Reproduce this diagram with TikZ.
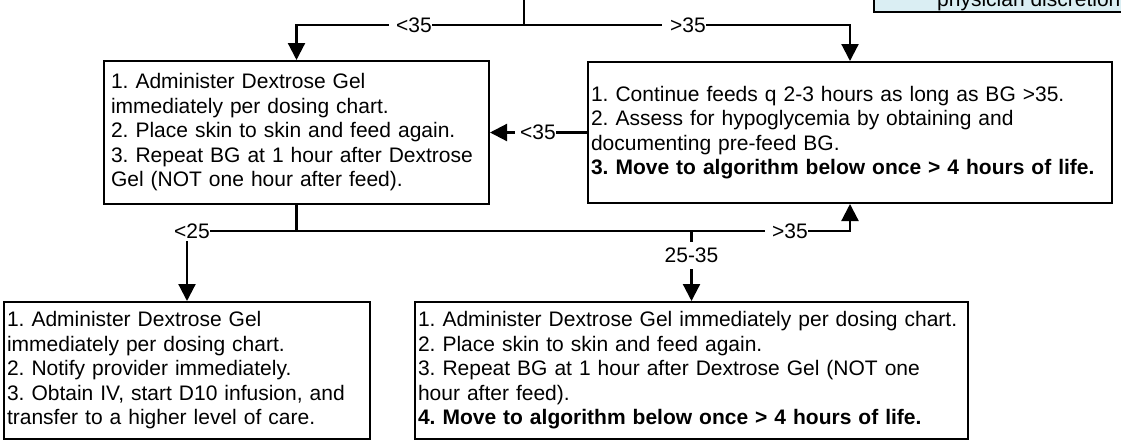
\documentclass[tikz,border=0pt]{standalone}
\usepackage{fontspec}
\setmainfont{Liberation Sans}
\usetikzlibrary{arrows.meta}
\definecolor{notefill}{RGB}{218,238,243}
\frenchspacing
\begin{document}
\begin{tikzpicture}[x=1pt,y=-1pt,
  every node/.style={font=\fontsize{21}{24.5}\selectfont},
  box/.style={draw=black, line width=2pt, align=left, anchor=center, inner ysep=2pt},
  conn/.style={line width=2.2pt},
  arr/.style={conn, -{Triangle[length=17pt,width=17pt]}},
  lbl/.style={fill=white, inner xsep=0pt, inner ysep=3pt},
]
\path[use as bounding box] (0,0) rectangle (1121,445);
\clip (0,0) rectangle (1121,445);

% note box (top right, partly outside)
\node[draw=black, line width=2pt, fill=notefill, anchor=south west,
      minimum width=300pt, minimum height=80pt, inner sep=0pt] (note) at (873,13) {};
\node[anchor=base west, inner sep=0pt] (notetext) at (937,6) {physician discretion};

% boxes
\node[box, minimum width=385pt, minimum height=143pt, text width=371pt, inner xsep=7pt] (A) at (296.5,132.5)
 {1. Administer Dextrose Gel\\immediately per dosing chart.\\2. Place skin to skin and feed again.\\3. Repeat BG at 1 hour after Dextrose\\Gel (NOT one hour after feed).};
\node[box, minimum width=524pt, minimum height=141pt, text width=518pt, inner xsep=3pt] (B) at (850,132.5)
 {1. Continue feeds q 2-3 hours as long as BG >35.\\2. Assess for hypoglycemia by obtaining and\\documenting pre-feed BG.\\\textbf{3. Move to algorithm below once > 4 hours of life.}};
\node[box, minimum width=366pt, minimum height=137pt, text width=360pt, inner xsep=3pt] (C) at (187,370.5)
 {1. Administer Dextrose Gel\\immediately per dosing chart.\\2. Notify provider immediately.\\3. Obtain IV, start D10 infusion, and\\transfer to a higher level of care.};
\node[box, minimum width=553pt, minimum height=137pt, text width=547pt, inner xsep=3pt] (D) at (691.5,370.5)
 {1. Administer Dextrose Gel immediately per dosing chart.\\2. Place skin to skin and feed again.\\3. Repeat BG at 1 hour after Dextrose Gel (NOT one\\hour after feed).\\\textbf{4. Move to algorithm below once > 4 hours of life.}};

% connectors
\coordinate (top) at (524,0);
\coordinate (j1) at (524,25);
\coordinate (y231) at (0,231);
\draw[conn] (top) -- (j1);
\draw[arr] (j1) -| (A.north);
\draw[arr] (j1) -| (B.north);
\draw[arr] (B.west) -- (A.east);
\coordinate (j2) at (A.south |- y231);
\draw[conn] (A.south) -- (j2);
\draw[arr] (j2) -| (C.north);
\draw[arr] (j2) -| (B.south);
\coordinate (j3) at (D.north |- y231);
\draw[arr] (j3) -- (D.north);

% labels
\node[lbl, anchor=east] (l1) at (432,25) {\hspace*{7pt}<35};
\node[lbl, anchor=east] (l2) at (706,25) {\hspace*{8pt}>35};
\node[lbl, anchor=east] (l3) at (556,132.5) {\hspace*{5pt}<35};
\node[lbl] (l4) at (192,231) {<25};
\node[lbl, anchor=east] (l5) at (808,231) {\hspace*{7pt}>35};
\node[lbl, inner ysep=6.2pt] (l6) at (691.5,255.5) {25-35};
\end{tikzpicture}
\end{document}
